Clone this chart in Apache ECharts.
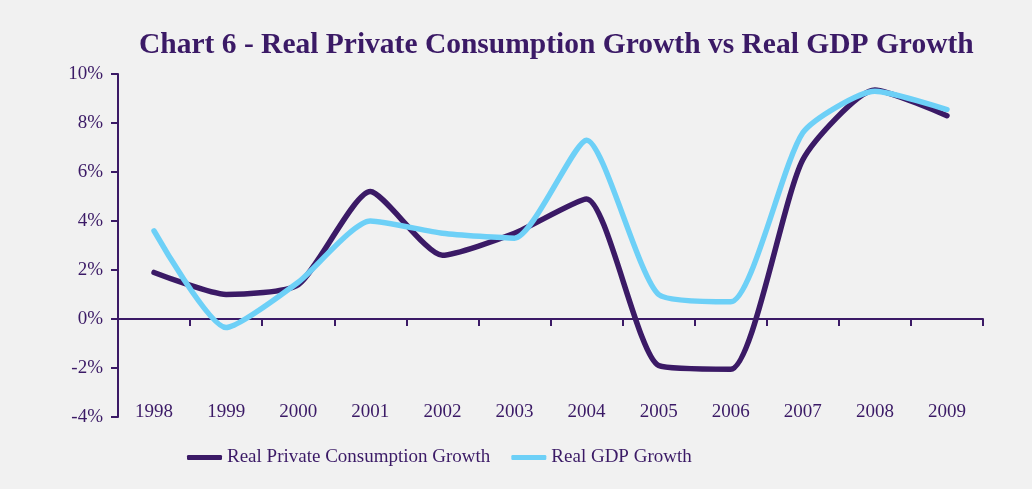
<!DOCTYPE html>
<html>
<head>
<meta charset="utf-8">
<style>
  html, body { margin: 0; padding: 0; background: #f1f1f1; }
  #chart { width: 1032px; height: 489px; }
</style>
<script src="https://cdn.jsdelivr.net/npm/echarts@6/dist/echarts.min.js"></script>
</head>
<body>
<div id="chart"></div>
<script>
// Annual growth rates, per cent
const years = ['1998', '1999', '2000', '2001', '2002', '2003', '2004', '2005', '2006', '2007', '2008', '2009'];
const consumptionGrowth = [1.9, 1.0, 1.4, 5.2, 2.6, 3.5, 4.9, -1.9, -2.05, 6.5, 9.35, 8.3];
const gdpGrowth = [3.6, -0.35, 1.5, 4.0, 3.5, 3.3, 7.3, 1.0, 0.7, 7.6, 9.3, 8.55];
const yTicks = { min: -4, max: 10, step: 2 };

const purple = '#3b1a66';
const sky = '#6dd0f7';
const serif = '"Liberation Serif", "DejaVu Serif", serif';

const chart = echarts.init(document.getElementById('chart'), null, { renderer: 'canvas' });

chart.setOption({
  backgroundColor: '#f1f1f1',
  animation: false,
  title: {
    text: 'Chart 6 - Real Private Consumption Growth vs Real GDP Growth',
    left: 134,
    top: 25,
    textStyle: { fontFamily: serif, fontWeight: 'bold', fontSize: 29.5, color: purple }
  },
  legend: {
    bottom: 17,
    left: 182,
    icon: 'roundRect',
    itemWidth: 35,
    itemHeight: 5,
    itemGap: 21,
    textStyle: { fontFamily: serif, fontSize: 19, color: purple },
    data: ['Real Private Consumption Growth', 'Real GDP Growth']
  },
  grid: { left: 118, right: 49, top: 74, bottom: 72 },
  xAxis: [
    {
      // zero line with ticks between the years
      type: 'category',
      data: years,
      boundaryGap: true,
      axisLine: { onZero: true, lineStyle: { color: purple, width: 2 } },
      axisTick: { show: true, interval: 0, length: 7, lineStyle: { color: purple, width: 2 } },
      axisLabel: { show: false },
      splitLine: { show: false }
    },
    {
      // year labels along the bottom edge
      type: 'category',
      data: years,
      position: 'bottom',
      boundaryGap: true,
      axisLine: { show: false, onZero: false },
      axisTick: { show: false },
      axisLabel: { margin: -14, fontFamily: serif, fontSize: 19, color: purple },
      splitLine: { show: false }
    }
  ],
  yAxis: {
    type: 'value',
    min: yTicks.min,
    max: yTicks.max,
    interval: yTicks.step,
    axisLine: { show: true, lineStyle: { color: purple, width: 2 } },
    axisTick: { show: true, length: 7, lineStyle: { color: purple, width: 2 } },
    axisLabel: { formatter: '{value}%', margin: 15, fontFamily: serif, fontSize: 19, color: purple },
    splitLine: { show: false }
  },
  series: [
    {
      name: 'Real Private Consumption Growth',
      type: 'line',
      data: consumptionGrowth,
      smooth: 0.2,
      showSymbol: false,
      symbol: 'none',
      color: purple,
      lineStyle: { color: purple, width: 5.5, cap: 'round', join: 'round' },
      z: 2
    },
    {
      name: 'Real GDP Growth',
      type: 'line',
      data: gdpGrowth,
      smooth: 0.2,
      showSymbol: false,
      symbol: 'none',
      color: sky,
      lineStyle: { color: sky, width: 5.5, cap: 'round', join: 'round' },
      z: 3
    }
  ]
});
</script>
</body>
</html>
